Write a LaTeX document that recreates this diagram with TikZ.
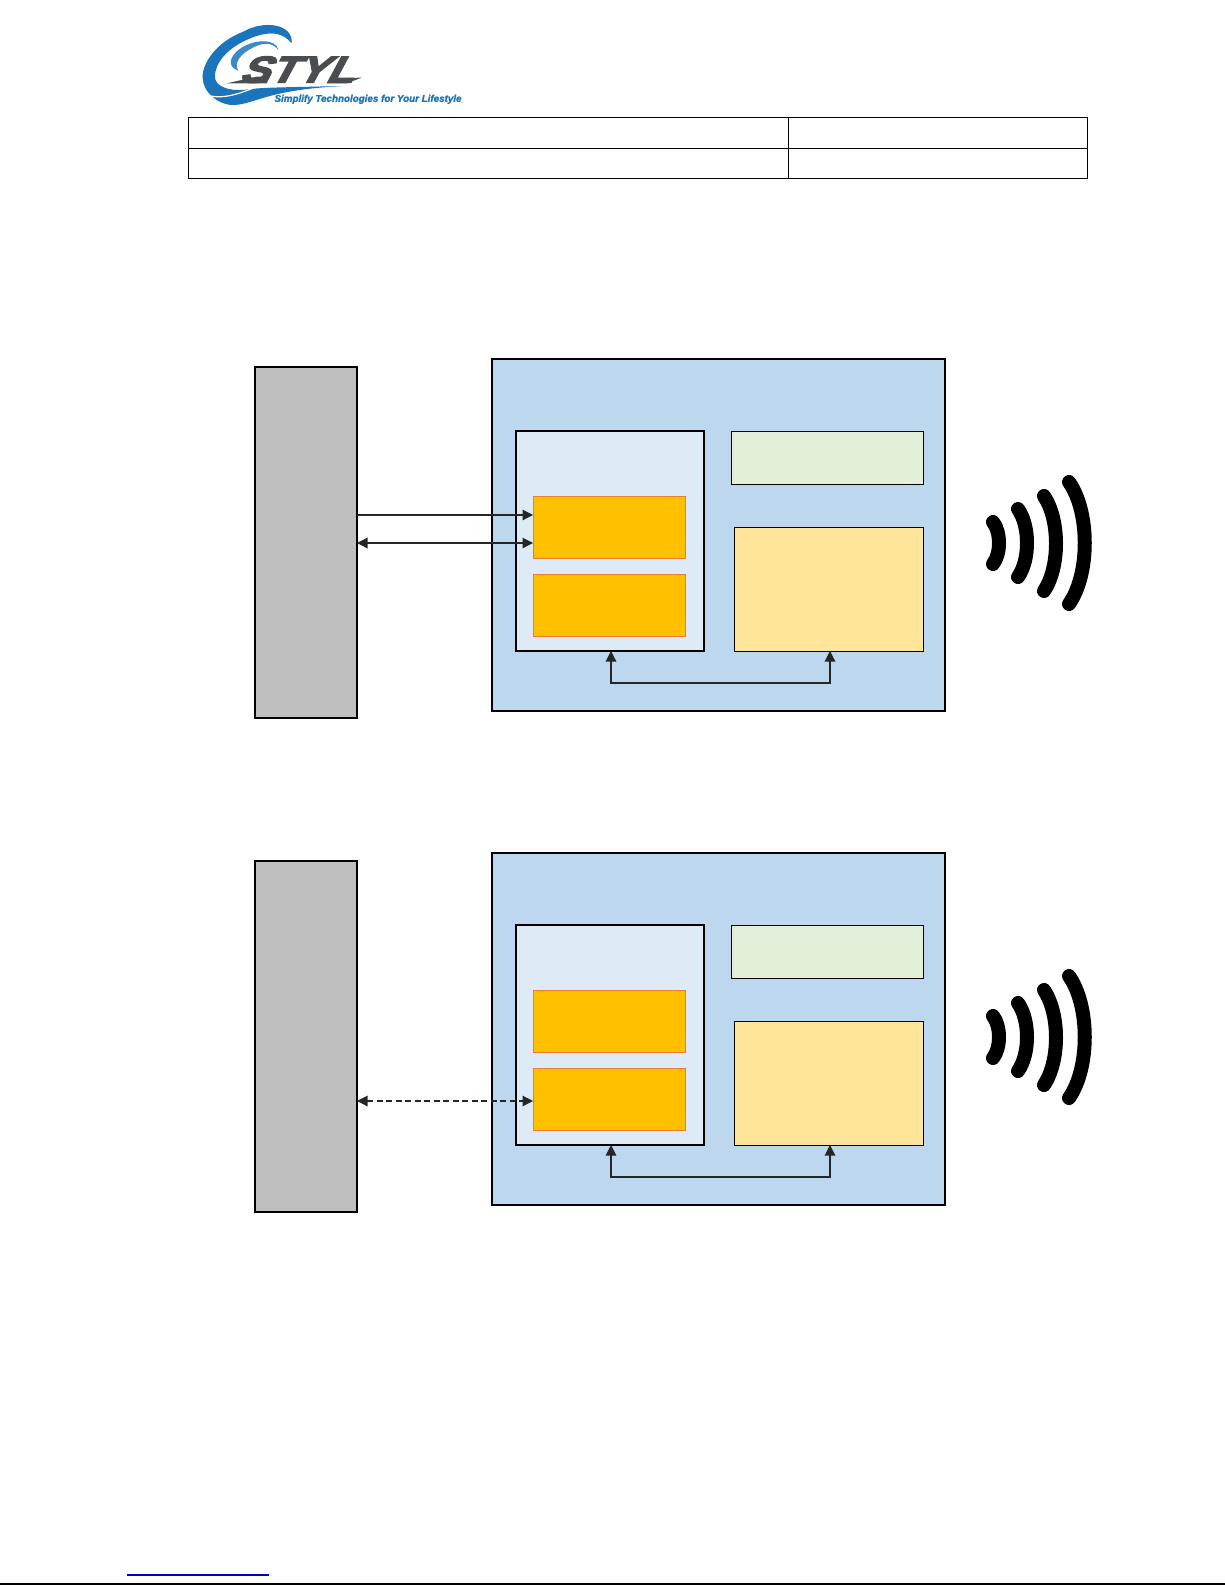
\documentclass[tikz,border=0pt]{standalone}
\usepackage{fontspec}
\setmainfont{Liberation Sans}
\newfontfamily\logoheavy[FakeBold=3.5,FakeSlant=0.45,BoldFont={Liberation Sans Bold}]{Liberation Sans Bold}
\newfontfamily\logotagfont[FakeBold=1.5]{Liberation Sans Bold Italic}
\usetikzlibrary{arrows.meta,calc}
\definecolor{grayblock}{HTML}{BFBFBF}
\definecolor{outerblue}{HTML}{BDD7EE}
\definecolor{innerblue}{HTML}{DEEAF6}
\definecolor{paleGreen}{HTML}{E2EFD9}
\definecolor{paleYellow}{HTML}{FFE599}
\definecolor{amber}{HTML}{FFC000}
\definecolor{amberEdge}{HTML}{ED7D31}
\definecolor{logoBlue}{HTML}{1B75BC}
\definecolor{logoGray}{HTML}{4A4D50}
\newcommand{\pxbox}[6][]{%
  \pgfmathsetmacro{\pxcx}{(#3+#5)/2}\pgfmathsetmacro{\pxcy}{(#4+#6)/2}%
  \pgfmathsetmacro{\pxw}{#5-#3}\pgfmathsetmacro{\pxh}{#6-#4}%
  \node[#1,minimum width=\pxw pt,minimum height=\pxh pt] (#2) at (\pxcx,\pxcy) {};}
\newcommand{\panel}[2]{%
  \begin{scope}[shift={(0,#2)}]
    \pxbox[blockbox,fill=grayblock]{gray#1}{255}{367}{357}{718}
    \pxbox[blockbox,fill=outerblue]{outer#1}{492}{359}{945}{711}
    \pxbox[blockbox,fill=innerblue]{inner#1}{516}{431}{704}{651}
    \pxbox[amberbox]{ambA#1}{533}{496}{685}{558}
    \pxbox[amberbox]{ambB#1}{533}{574}{685}{636}
    \pxbox[thinbox,fill=paleGreen]{green#1}{731}{431.5}{923}{484}
    \pxbox[thinbox,fill=paleYellow]{yellow#1}{734}{527}{923}{651}
    \coordinate (bus#1) at (0,683);
    \draw[link,tips2]
      (inner#1.south -| 611,0) -- (611,0 |- bus#1) -- (830,0 |- bus#1) -- (yellow#1.south -| 830,0);
    \draw[wave] (993,522) .. controls (1001,532) and (1001,554) .. (993,564);
    \draw[wave] (1018,509) .. controls (1030,526) and (1030,560) .. (1018,577);
    \draw[wave] (1044,496) .. controls (1060,520) and (1060,567) .. (1044,591);
    \draw[wave] (1069,482) .. controls (1090,512) and (1090,574) .. (1069,604);
  \end{scope}}
\tikzset{
  blockbox/.style={draw=black,line width=1.3pt,outer sep=0pt,inner sep=0pt},
  thinbox/.style={draw=black,line width=.9pt,outer sep=0pt,inner sep=0pt},
  amberbox/.style={draw=amberEdge,line width=.9pt,fill=amber,outer sep=0pt,inner sep=0pt},
  cellbox/.style={draw=black,line width=1pt,outer sep=0pt,inner sep=0pt},
  link/.style={draw=black!85,line width=1.2pt},
  tips1/.style={-{Triangle[length=10.5pt,width=10.5pt]}},
  tips2/.style={{Triangle[length=10.5pt,width=10.5pt]}-{Triangle[length=10.5pt,width=10.5pt]}},
  wave/.style={draw=black,line width=14pt,line cap=round},
}
\begin{document}
\begin{tikzpicture}[x=1pt,y=-1pt]
\useasboundingbox (0,0) rectangle (1225,1585);
\fill[white] (0,0) rectangle (1225,1585);

% logo
\begin{scope}[shift={(170,0)},x=.3333pt,y=-.3333pt]
  \fill[logoBlue] (365,130) .. controls (370,70) and (280,60) .. (220,95)
     .. controls (140,125) and (95,190) .. (98,235)
     .. controls (100,280) and (150,318) .. (195,315)
     .. controls (260,310) and (290,270) .. (520,258)
     .. controls (350,262) and (280,262) .. (235,268)
     .. controls (190,275) and (130,265) .. (135,225)
     .. controls (140,170) and (200,125) .. (270,105)
     .. controls (310,95) and (340,100) .. (365,130) -- cycle;
  \fill[logoBlue!85!white] (325,150) .. controls (320,115) and (250,115) .. (205,150)
     .. controls (180,170) and (170,200) .. (205,212)
     .. controls (190,190) and (210,160) .. (255,140)
     .. controls (285,125) and (310,130) .. (325,150) -- cycle;
  \draw[white,line width=1.2pt] (105,283) .. controls (150,300) and (200,285) .. (255,262);
  \fill[logoGray] (170,250) -- (260,230) -- (300,230) -- (290,250) -- cycle;
  \fill[logoGray] (480,235) -- (575,233) -- (530,250) -- (470,250) -- cycle;
  \node[anchor=south west,inner sep=0pt,text=logoGray] (logoname) at (204,249)
     {\resizebox{114pt}{26pt}{\logoheavy STYL}};
  \node[anchor=west,inner sep=0pt,text=logoBlue] (logotag) at (313,298)
     {\resizebox{187pt}{!}{\logotagfont Simplify Technologies for Your Lifestyle}};
\end{scope}

% header table
\pxbox[cellbox]{cellA}{188}{117.5}{788}{148}
\pxbox[cellbox]{cellB}{788}{117.5}{1087.5}{148}
\pxbox[cellbox]{cellC}{188}{148}{788}{178}
\pxbox[cellbox]{cellD}{788}{148}{1087.5}{178}

\panel{T}{0}
\panel{B}{494}

% host links, upper panel
\coordinate (ya) at (0,515);
\coordinate (yb) at (0,543);
\draw[link,tips1] (grayT.east |- ya) -- (ambAT.west |- ya);
\draw[link,tips2] (grayT.east |- yb) -- (ambAT.west |- yb);

% host link, lower panel
\coordinate (yc) at (0,1101);
\draw[link,dash pattern=on 6pt off 3.5pt,tips2] (grayB.east |- yc) -- (ambBB.west |- yc);

% footer
\draw[draw=blue!80!black,line width=1.1pt] (127,1575) -- (269,1575);
\draw[draw=black,line width=1.2pt] (0,1584) -- (1225,1584);
\end{tikzpicture}
\end{document}
